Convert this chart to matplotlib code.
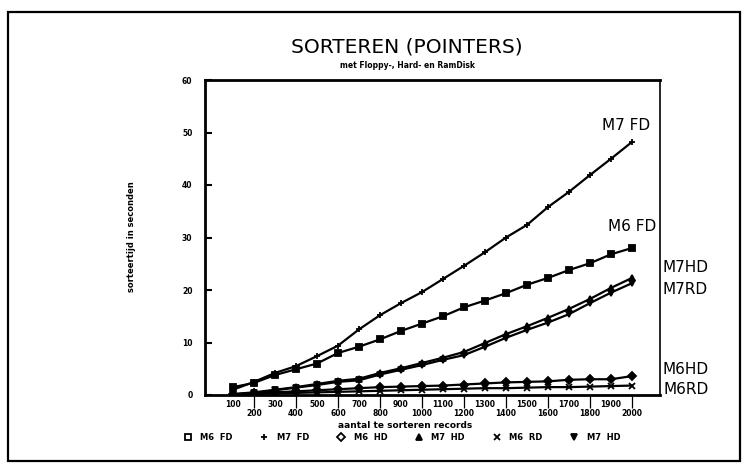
import matplotlib.pyplot as plt
from matplotlib.lines import Line2D
from matplotlib.patches import Rectangle

# Aantal records (x-as)
records = [100, 200, 300, 400, 500, 600, 700, 800, 900, 1000,
           1100, 1200, 1300, 1400, 1500, 1600, 1700, 1800, 1900, 2000]

# Sorteertijd in seconden per machine / medium
m6_fd = [1.5, 2.3, 3.8, 4.9, 6.0, 8.0, 9.2, 10.6, 12.2, 13.6,
         15.0, 16.7, 18.0, 19.4, 21.0, 22.3, 23.8, 25.1, 26.8, 28.0]
m7_fd = [1.0, 2.5, 4.2, 5.5, 7.4, 9.4, 12.5, 15.2, 17.5, 19.6,
         22.1, 24.6, 27.2, 30.0, 32.4, 35.8, 38.7, 41.9, 45.0, 48.2]
m6_hd = [0.1, 0.3, 0.5, 0.7, 0.9, 1.1, 1.3, 1.5, 1.6, 1.7,
         1.8, 2.0, 2.2, 2.4, 2.5, 2.6, 2.9, 3.0, 3.0, 3.6]
m7_hd = [0.2, 0.5, 1.0, 1.5, 2.1, 2.7, 3.1, 4.2, 5.1, 6.1,
         7.1, 8.2, 9.9, 11.6, 13.1, 14.7, 16.4, 18.3, 20.4, 22.3]
m6_rd = [0.1, 0.2, 0.3, 0.4, 0.5, 0.6, 0.7, 0.8, 0.9, 1.0,
         1.1, 1.2, 1.3, 1.3, 1.4, 1.5, 1.5, 1.6, 1.7, 1.8]
m7_rd = [0.1, 0.4, 0.9, 1.4, 1.9, 2.5, 2.8, 3.9, 4.8, 5.7,
         6.7, 7.6, 9.2, 10.9, 12.4, 13.8, 15.4, 17.5, 19.5, 21.3]

series = [
    (m6_fd, 's', 'M6  FD'),
    (m7_fd, '+', 'M7  FD'),
    (m6_hd, 'D', 'M6  HD'),
    (m7_hd, '^', 'M7  HD'),
    (m6_rd, 'x', 'M6  RD'),
    (m7_rd, 'v', 'M7  HD'),
]

W, H = 746, 472
fig = plt.figure(figsize=(W / 100, H / 100), dpi=100)
fig.patch.set_facecolor('white')

def px(x, y):
    return x / W, 1 - y / H

# kader om de hele tekening
fig.add_artist(Rectangle(px(8, 461), (740 - 8) / W, (461 - 12) / H,
                         transform=fig.transFigure, fill=False,
                         lw=1.6, ec='black'))

ax = fig.add_axes([205 / W, 1 - 395 / H, (660 - 205) / W, (395 - 80) / H])

for vals, mk, lab in series:
    ax.plot(records, vals, color='black', lw=1.6, marker=mk,
            markersize=4, mew=1.3, mfc='black', mec='black')

ax.set_xlim(-33.3, 2133.3)
ax.set_ylim(0, 60)

for side in ['left', 'bottom', 'top']:
    ax.spines[side].set_linewidth(2.0)
ax.spines['right'].set_linewidth(1.2)

ax.set_yticks(range(0, 61, 10))
ax.tick_params(axis='y', direction='in', length=5, width=1.5, pad=9,
               labelsize=5.5)
for t in ax.get_yticklabels():
    t.set_fontweight('bold')

# oneven aantallen direct onder de as, even aantallen lager met lange streep
ax.set_xticks(records[0::2])
ax.set_xticks(records[1::2], minor=True)
ax.set_xticklabels([str(r) for r in records[0::2]], fontsize=5.5,
                   fontweight='bold')
ax.set_xticklabels([str(r) for r in records[1::2]], minor=True,
                   fontsize=5.5, fontweight='bold')
ax.tick_params(axis='x', which='major', direction='out', length=0, pad=3.5)
ax.tick_params(axis='x', which='minor', direction='out', length=9,
               width=0.9, pad=1.2)

fig.text(*px(407, 47), 'SORTEREN (POINTERS)', ha='center', va='center',
         fontsize=14.5)
fig.text(*px(407, 65), 'met Floppy-, Hard- en RamDisk', ha='center',
         va='center', fontsize=5.5, fontweight='bold')
fig.text(*px(405, 425), 'aantal te sorteren records', ha='center',
         va='center', fontsize=6.5, fontweight='bold')
fig.text(*px(131, 237), 'sorteertijd in seconden', ha='center',
         va='center', rotation=90, fontsize=6, fontweight='bold')

# namen bij de lijnen
for x, y, s in [(626, 125, 'M7 FD'), (632, 227, 'M6 FD'),
                (685, 268, 'M7HD'), (685, 290, 'M7RD'),
                (686, 369, 'M6HD'), (686, 389, 'M6RD')]:
    fig.text(*px(x, y), s, ha='center', va='center', fontsize=11)

handles = [Line2D([], [], ls='', marker=mk, color='black', markersize=4.5,
                  mfc='none' if mk in 'sD' else 'black', mew=1.3)
           for _, mk, _ in series]
labels = [lab for _, _, lab in series]
fig.legend(handles, labels, loc='center', bbox_to_anchor=px(402, 437),
           ncol=6, frameon=False, handlelength=1,
           handletextpad=1.0, columnspacing=3.3,
           prop={'weight': 'bold', 'size': 6})

fig.savefig('out.png', dpi=100)
